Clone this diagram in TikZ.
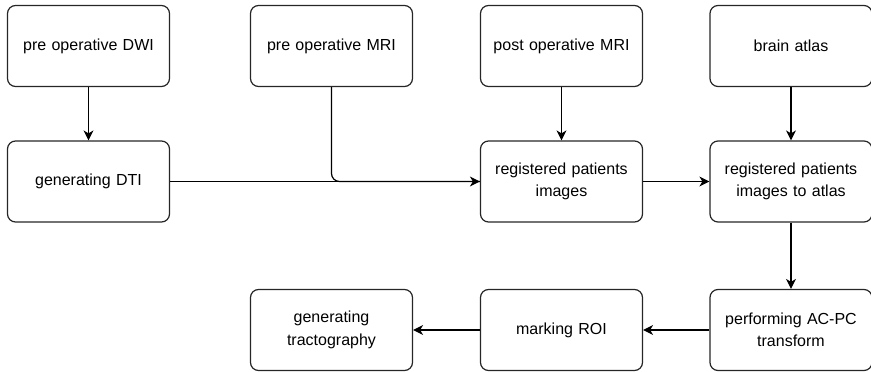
\documentclass[tikz,border=0pt]{standalone}
\usepackage{fontspec}
\setmainfont{Liberation Sans}
\usetikzlibrary{positioning}
\usetikzlibrary{arrows.meta}

\begin{document}
\begin{tikzpicture}[x=1pt,y=-1pt,
% Box style
    block/.style={rectangle,rounded corners=8pt,draw=black!85,line width=1.2pt,
		minimum width=162pt,minimum height=81pt,text width=152pt,align=center,
		font={\fontsize{16pt}{22.5pt}\selectfont}},
% Edge style
    flow/.style={-{Stealth[length=10pt,width=10pt,inset=3pt]},line width=1.2pt},
    ]
  \useasboundingbox (0,0) rectangle (871,372);

  % top row: inputs
  \node (dwi) [block] at (88.5,46) {pre operative DWI};
  \node (mri) [block] at (331.5,46) {pre operative MRI};
  \node (pmri) [block] at (561.5,46) {post operative MRI};
  \node (atlas) [block] at (791,46) {brain atlas};

  % middle row
  \node (dti) [block] at (88.5,181.5) {generating DTI};
  \node (reg) [block] at (561.5,181.5) {registered patients\\images};
  \node (rega) [block] at (791,181.5) {registered patients\\images to atlas};

  % bottom row
  \node (acpc) [block] at (791,330) {performing AC-PC\\transform};
  \node (roi) [block] at (561.5,330) {marking ROI};
  \node (tract) [block] at (331.5,330) {generating\\tractography};

  \draw[flow] (dwi) -- (dti);
  \draw[flow] (dti) -- (reg);
  \draw[line width=1.2pt,rounded corners=8pt] (mri.south) |- (reg.west);
  \draw[flow] (pmri) -- (reg);
  \draw[flow] (atlas) -- (rega);
  \draw[flow] (reg) -- (rega);
  \draw[flow] (rega) -- (acpc);
  \draw[flow] (acpc) -- (roi);
  \draw[flow] (roi) -- (tract);

\end{tikzpicture}
\end{document}
